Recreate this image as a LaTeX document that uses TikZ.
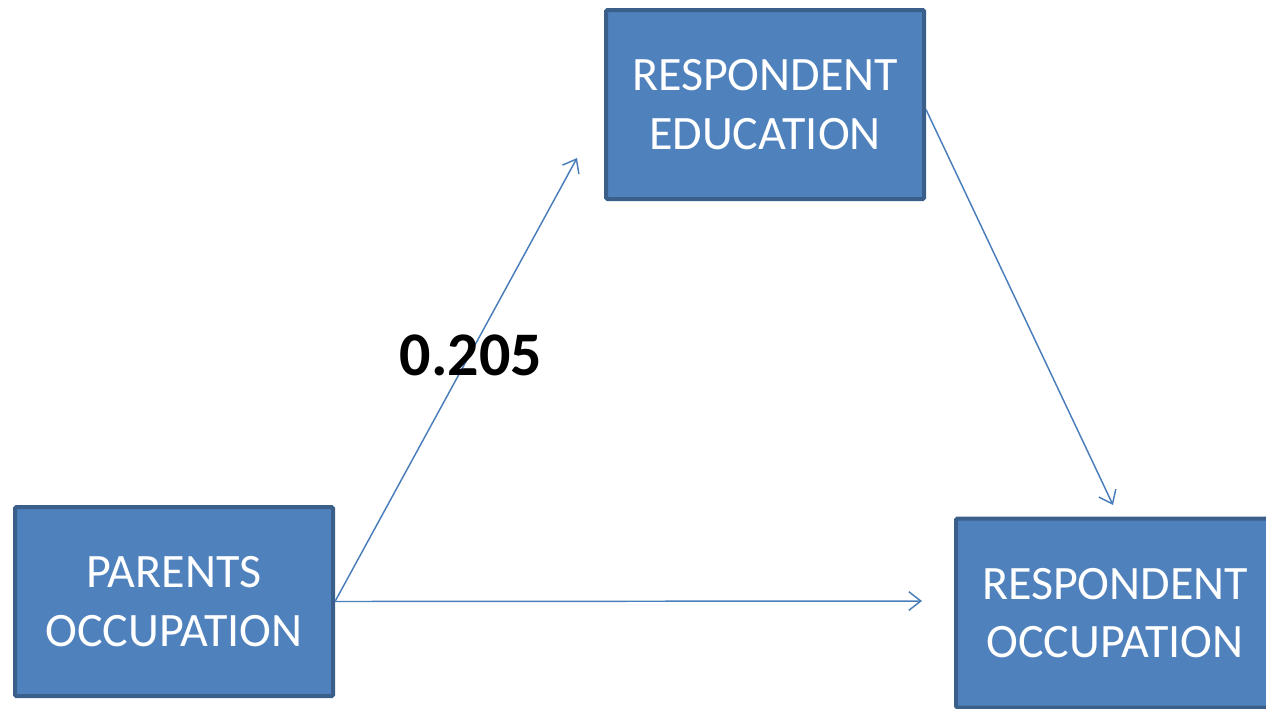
\documentclass[tikz,border=0pt]{standalone}
\usepackage{fontspec}
\setmainfont{Carlito}
\usetikzlibrary{arrows.meta}

\definecolor{boxfill}{HTML}{4F81BD}
\definecolor{boxline}{HTML}{3A5F8B}
\definecolor{arrowblue}{HTML}{4A7EBB}

\tikzset{
  varbox/.style={draw=boxline, fill=boxfill, line width=3pt, rounded corners=1pt,
    minimum width=238.5pt, minimum height=141.75pt,
    text=white, align=center, font=\fontsize{36}{44}\selectfont},
  path/.style={draw=arrowblue, line width=1.1pt,
    -{Straight Barb[length=9pt, width=14pt, line width=1.1pt]}}
}

\begin{document}
\begin{tikzpicture}[x=0.75pt, y=-0.75pt]
    \useasboundingbox (0,0) rectangle (1266,708);
    \clip (0,0) rectangle (1266,708);

    \node[varbox] (parocc) at (174, 601.5) {PARENTS\\OCCUPATION};
    \node[varbox] (resedu) at (765, 104.5) {RESPONDENT\\EDUCATION};
    \node[varbox] (resocc) at (1115, 613) {RESPONDENT\\OCCUPATION};

    \coordinate (tip1) at (577, 158);
    \coordinate (tip2) at (1113, 505);
    \coordinate (tip3) at (922, 601);

    \draw[path] (parocc.east) -- (tip1);
    \draw[path] (resedu.east) ++(0,5) -- (tip2);
    \draw[path] (parocc.east) -- (tip3);

    \node[font=\bfseries\fontsize{46.5}{56}\selectfont] (coef) at (471, 355) {0.205};
\end{tikzpicture}
\end{document}
